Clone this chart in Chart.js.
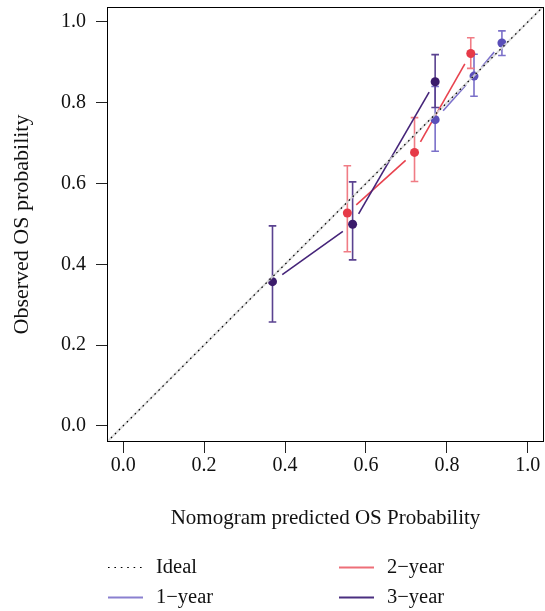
<!DOCTYPE html>
<html><head><meta charset="utf-8">
<script src="https://cdn.jsdelivr.net/npm/chart.js@4.4.0/dist/chart.umd.min.js"></script>
<style>html,body{margin:0;padding:0;background:#fff}#wrap{width:545px;height:611px}</style>
</head><body><div id="wrap"><canvas id="c" width="545" height="611"></canvas></div>
<script>
// ---- data ----
const tickValues = [0, 0.2, 0.4, 0.6, 0.8, 1.0];
const axisRangeX = [-0.04, 1.04];
const axisRangeY = [-0.04, 1.037];
const idealLabel = 'Ideal';
const seriesNames = ['1\u2212year', '2\u2212year', '3\u2212year'];
const xTitle = 'Nomogram predicted OS Probability';
const yTitle = 'Observed OS probability';

const pred1 = [0.771, 0.867, 0.936];
const obs1  = [0.758, 0.866, 0.948];
const lo1   = [0.680, 0.816, 0.917];
const hi1   = [0.840, 0.920, 0.978];

const pred2 = [0.554, 0.720, 0.859];
const obs2  = [0.527, 0.677, 0.922];
const lo2   = [0.431, 0.605, 0.885];
const hi2   = [0.644, 0.763, 0.961];

const pred3 = [0.369, 0.567, 0.771];
const obs3  = [0.357, 0.499, 0.852];
const lo3   = [0.257, 0.411, 0.788];
const hi3   = [0.495, 0.604, 0.919];

// ---- styles ----
const FONT = "'Liberation Serif', 'DejaVu Serif', serif";
const styles = [
  {point: '#5a4fb9', line: '#7d72cc', bar: '#7b70c9', legend: '#8a80d0'},
  {point: '#e63a48', line: '#e8434f', bar: '#f07c85', legend: '#ee6f78'},
  {point: '#3b1b6b', line: '#452479', bar: '#5a4290', legend: '#4a2f80'}
];

const series = [
  {pred: pred1, obs: obs1, lo: lo1, hi: hi1},
  {pred: pred2, obs: obs2, lo: lo2, hi: hi2},
  {pred: pred3, obs: obs3, lo: lo3, hi: hi3}
];

const idealPts = [{x: axisRangeX[0], y: axisRangeX[0]}, {x: axisRangeX[1], y: axisRangeX[1]}];

const datasets = [
  {type: 'line', label: idealLabel, data: idealPts, borderColor: '#000', borderWidth: 1.2,
   borderDash: [1.6, 4], pointRadius: 0, order: 0, isIdeal: true},
  {type: 'line', label: 'halo', data: idealPts, borderColor: 'rgba(215,215,215,0.85)', borderWidth: 2,
   pointRadius: 0, order: 1, isHalo: true}
];
series.forEach((s, i) => {
  datasets.push({
    type: 'scatter', label: seriesNames[i],
    data: s.pred.map((p, k) => ({x: p, y: s.obs[k]})),
    backgroundColor: styles[i].point, borderColor: styles[i].point,
    pointRadius: 4.5, pointBorderWidth: 0, showLine: false, order: 2 + i, seriesIndex: i
  });
});

// gap lines (R type="b") and error bars
const seriesPlugin = {
  id: 'seriesPlugin',
  beforeDatasetsDraw(chart) {
    const ctx = chart.ctx, xs = chart.scales.x, ys = chart.scales.y;
    const gap = 12;
    ctx.save();
    chart.data.datasets.forEach((ds, di) => {
      if (ds.seriesIndex === undefined) return;
      const st = styles[ds.seriesIndex];
      const s = series[ds.seriesIndex];
      ctx.strokeStyle = st.bar; ctx.lineWidth = 1.6;
      s.pred.forEach((p, k) => {
        const x = xs.getPixelForValue(p);
        const y1 = ys.getPixelForValue(s.lo[k]);
        const y2 = ys.getPixelForValue(s.hi[k]);
        ctx.beginPath();
        ctx.moveTo(x, y1); ctx.lineTo(x, y2);
        ctx.moveTo(x - 3.8, y1); ctx.lineTo(x + 3.8, y1);
        ctx.moveTo(x - 3.8, y2); ctx.lineTo(x + 3.8, y2);
        ctx.stroke();
      });
      const meta = chart.getDatasetMeta(di);
      const pts = meta.data.map(e => ({x: e.x, y: e.y})).sort((a, b) => a.x - b.x);
      ctx.strokeStyle = st.line; ctx.lineWidth = 1.6;
      for (let k = 0; k < pts.length - 1; k++) {
        const a = pts[k], b = pts[k + 1];
        const dx = b.x - a.x, dy = b.y - a.y, L = Math.hypot(dx, dy);
        if (L <= 2 * gap) continue;
        const ux = dx / L, uy = dy / L;
        ctx.beginPath();
        ctx.moveTo(a.x + ux * gap, a.y + uy * gap);
        ctx.lineTo(b.x - ux * gap, b.y - uy * gap);
        ctx.stroke();
      }
    });
    ctx.restore();
  },
  afterDraw(chart) {
    const ctx = chart.ctx, a = chart.chartArea;
    ctx.save();
    ctx.strokeStyle = '#000'; ctx.lineWidth = 1;
    ctx.strokeRect(Math.round(a.left) + 0.5, Math.round(a.top) + 0.5,
                   Math.round(a.right - a.left) - 1, Math.round(a.bottom - a.top) - 1);
    ctx.font = '20.5px ' + FONT;
    ctx.fillStyle = '#111';
    ctx.textBaseline = 'alphabetic';
    const items = [
      {label: idealLabel, ideal: true, col: 0, row: 0},
      {label: seriesNames[0], color: styles[0].legend, col: 0, row: 1},
      {label: seriesNames[1], color: styles[1].legend, col: 1, row: 0},
      {label: seriesNames[2], color: styles[2].legend, col: 1, row: 1}
    ];
    const colX = [108, 339], rowY = [567.5, 597.5], lineLen = 35, textOff = 48;
    items.forEach(it => {
      const x = colX[it.col], y = rowY[it.row];
      ctx.beginPath();
      if (it.ideal) {
        ctx.strokeStyle = '#000'; ctx.lineWidth = 1.2; ctx.setLineDash([1.6, 4.8]);
      } else {
        ctx.strokeStyle = it.color; ctx.lineWidth = 2; ctx.setLineDash([]);
      }
      ctx.moveTo(x, y); ctx.lineTo(x + lineLen, y); ctx.stroke();
      ctx.setLineDash([]);
      ctx.fillText(it.label, x + textOff, y + 5);
    });
    ctx.restore();
  }
};

new Chart(document.getElementById('c'), {
  data: {datasets},
  options: {
    responsive: false, animation: false, devicePixelRatio: 1,
    layout: {autoPadding: false, padding: {left: 0, right: 1, top: 7, bottom: 79}},
    plugins: {legend: {display: false}, tooltip: {enabled: false}},
    scales: {
      x: {
        type: 'linear', min: axisRangeX[0], max: axisRangeX[1],
        afterBuildTicks: s => { s.ticks = tickValues.map(v => ({value: v})); },
        afterFit: s => { s.height = 90; s.paddingLeft = 0; s.paddingRight = 0; },
        ticks: {callback: v => Number(v).toFixed(1), font: {family: FONT, size: 20}, color: '#111',
                padding: 1, maxRotation: 0, autoSkip: false},
        grid: {drawOnChartArea: false, drawTicks: true, tickLength: 11, color: '#222', lineWidth: 1},
        border: {display: false},
        title: {display: true, text: xTitle, font: {family: FONT, size: 21}, color: '#111',
                padding: {top: 0, bottom: 1}}
      },
      y: {
        type: 'linear', min: axisRangeY[0], max: axisRangeY[1],
        afterBuildTicks: s => { s.ticks = tickValues.map(v => ({value: v})); },
        afterFit: s => { s.width = 107; s.paddingTop = 0; s.paddingBottom = 0; },
        ticks: {callback: v => Number(v).toFixed(1), font: {family: FONT, size: 20}, color: '#111',
                padding: 10, autoSkip: false},
        grid: {drawOnChartArea: false, drawTicks: true, tickLength: 11, color: '#222', lineWidth: 1},
        border: {display: false},
        title: {display: true, text: yTitle, font: {family: FONT, size: 22}, color: '#111',
                padding: {top: 9, bottom: 0}}
      }
    }
  },
  plugins: [seriesPlugin]
});
</script></body></html>
